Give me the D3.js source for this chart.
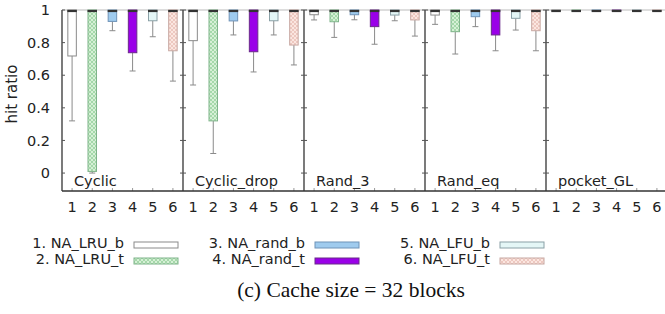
<!DOCTYPE html>
<html>
<head>
<meta charset="utf-8">
<script src="https://cdn.jsdelivr.net/npm/d3@7/dist/d3.min.js"></script>
<style>
html,body{margin:0;padding:0;background:#fff;}
svg{display:block;}
</style>
</head>
<body>
<svg id="chart" width="665" height="314"></svg>
<script>
// ---- data ----
const panels = ["Cyclic", "Cyclic_drop", "Rand_3", "Rand_eq", "pocket_GL"];
const seriesIds = [1, 2, 3, 4, 5, 6];
const seriesNames = ["NA_LRU_b", "NA_LRU_t", "NA_rand_b", "NA_rand_t", "NA_LFU_b", "NA_LFU_t"];
// box bottom (lower quartile) per panel, per series; box top / median at 1
const boxLow = [
  [0.718, 0.01, 0.93, 0.738, 0.934, 0.75],
  [0.812, 0.32, 0.933, 0.744, 0.934, 0.785],
  [0.971, 0.928, 0.971, 0.898, 0.969, 0.939],
  [0.969, 0.867, 0.959, 0.847, 0.949, 0.873],
  [0.998, 0.998, 0.998, 0.998, 0.998, 0.998]
];
// lower whisker end per panel, per series
const whiskerLow = [
  [0.32, 0.0, 0.873, 0.626, 0.836, 0.564],
  [0.54, 0.12, 0.847, 0.62, 0.847, 0.663],
  [0.939, 0.832, 0.94, 0.79, 0.934, 0.84],
  [0.912, 0.73, 0.898, 0.75, 0.877, 0.75],
  [0.997, 0.997, 0.997, 0.997, 0.997, 0.997]
];
const boxHigh = 1.0;
const yTicks = [0, 0.2, 0.4, 0.6, 0.8, 1];
const yTickLabels = ["0", "0.2", "0.4", "0.6", "0.8", "1"];
const caption = "(c) Cache size = 32 blocks";

// ---- styles ----
const fills = ["#ffffff", "url(#hatchGreen)", "#9fcbee", "#9a00e8", "#e4f6f6", "url(#hatchPink)"];
const strokes = ["#8a8a8a", "#7fb48a", "#6f93b8", "#6a2a8a", "#8aa0a6", "#c8a8a2"];
const font = "'DejaVu Sans', Verdana, sans-serif";

const svg = d3.select("#chart");
const defs = svg.append("defs");
function hatch(id, bg, line) {
  const p = defs.append("pattern").attr("id", id).attr("patternUnits", "userSpaceOnUse")
    .attr("width", 4).attr("height", 4);
  p.append("rect").attr("width", 4).attr("height", 4).attr("fill", bg);
  p.append("path").attr("d", "M0,0 L4,4 M4,0 L0,4").attr("stroke", line).attr("stroke-width", 0.7);
}
hatch("hatchGreen", "#d6f0d6", "#8fcf96");
hatch("hatchPink", "#fbe6e0", "#e6bcb2");

const plotL = 62, plotR = 667, plotT = 10, plotB = 191;
const y = d3.scaleLinear().domain([-0.11, 1]).range([plotB, plotT]);
const xp = d3.scaleBand().domain(panels).range([plotL, plotR]);
const xs = d3.scaleBand().domain(seriesIds).range([0, xp.bandwidth()]);
const boxW = 8.5;

// top border (light)
svg.append("line").attr("x1", plotL).attr("x2", plotR).attr("y1", plotT).attr("y2", plotT)
  .attr("stroke", "#bbbbbb").attr("stroke-width", 1);

panels.forEach((p, pi) => {
  const g = svg.append("g").attr("transform", `translate(${xp(p)},0)`);
  seriesIds.forEach((s, si) => {
    const cx = xs(s) + xs.bandwidth() / 2;
    const lo = boxLow[pi][si], wl = whiskerLow[pi][si];
    // whisker
    g.append("line").attr("x1", cx).attr("x2", cx).attr("y1", y(lo)).attr("y2", y(wl))
      .attr("stroke", "#8a8a8a").attr("stroke-width", 1);
    g.append("line").attr("x1", cx - 3).attr("x2", cx + 3).attr("y1", y(wl)).attr("y2", y(wl))
      .attr("stroke", "#8a8a8a").attr("stroke-width", 1);
    // box
    g.append("rect").attr("x", cx - boxW / 2).attr("y", y(boxHigh))
      .attr("width", boxW).attr("height", Math.max(1, y(lo) - y(boxHigh)))
      .attr("fill", fills[si]).attr("stroke", strokes[si]).attr("stroke-width", 1);
    // median at top
    g.append("line").attr("x1", cx - boxW / 2 - 0.5).attr("x2", cx + boxW / 2 + 0.5)
      .attr("y1", y(boxHigh) + 1).attr("y2", y(boxHigh) + 1)
      .attr("stroke", "#333").attr("stroke-width", 2.2);
    // bottom ticks
    g.append("line").attr("x1", cx).attr("x2", cx).attr("y1", plotB).attr("y2", plotB - 3)
      .attr("stroke", "#999").attr("stroke-width", 1);
    // x tick label
    g.append("text").attr("x", cx).attr("y", 212).attr("text-anchor", "middle")
      .attr("font-family", font).attr("font-size", "14.5px").attr("fill", "#222").text(s);
  });
  // panel label
  g.append("text").attr("x", 12).attr("y", 186).attr("font-family", font)
    .attr("font-size", "14.5px").attr("fill", "#222").text(p);
  // left border of panel with ticks
  const x0 = xp(p);
  svg.append("line").attr("x1", x0).attr("x2", x0).attr("y1", plotT).attr("y2", plotB)
    .attr("stroke", "#333").attr("stroke-width", 1.3);
  yTicks.forEach(t => {
    svg.append("line").attr("x1", x0 - (pi === 0 ? 0 : 3)).attr("x2", x0 + 3)
      .attr("y1", y(t)).attr("y2", y(t)).attr("stroke", "#555").attr("stroke-width", 1);
  });
});

// bottom axis line
svg.append("line").attr("x1", plotL).attr("x2", plotR).attr("y1", plotB).attr("y2", plotB)
  .attr("stroke", "#333").attr("stroke-width", 1.3);

// y tick labels
yTicks.forEach((t, i) => {
  svg.append("text").attr("x", 50).attr("y", y(t)).attr("dy", "0.35em")
    .attr("text-anchor", "end").attr("font-family", font).attr("font-size", "14.5px")
    .attr("fill", "#222").text(yTickLabels[i]);
});

// y axis title
svg.append("text").attr("transform", "translate(17,94) rotate(-90)")
  .attr("text-anchor", "middle").attr("font-family", font).attr("font-size", "15px")
  .attr("fill", "#222").text("hit ratio");

// legend
const legCols = [
  {tx: 124, bx: 134},
  {tx: 305, bx: 315},
  {tx: 490, bx: 500}
];
seriesIds.forEach((s, i) => {
  const col = legCols[Math.floor(i / 2)];
  const rowY = i % 2 === 0 ? 243 : 259;
  svg.append("text").attr("x", col.tx).attr("y", rowY).attr("dy", "0.35em")
    .attr("text-anchor", "end").attr("font-family", font).attr("font-size", "14.5px")
    .attr("fill", "#222").text(`${s}. ${seriesNames[i]}`);
  svg.append("rect").attr("x", col.bx).attr("y", rowY - 1).attr("width", 44).attr("height", 6)
    .attr("fill", fills[i]).attr("stroke", strokes[i]).attr("stroke-width", 1);
});

// caption
svg.append("text").attr("x", 351).attr("y", 297).attr("text-anchor", "middle")
  .attr("font-family", "'Liberation Serif', 'Times New Roman', serif").attr("font-size", "21.5px")
  .attr("fill", "#111").text(caption);
</script>
</body>
</html>
